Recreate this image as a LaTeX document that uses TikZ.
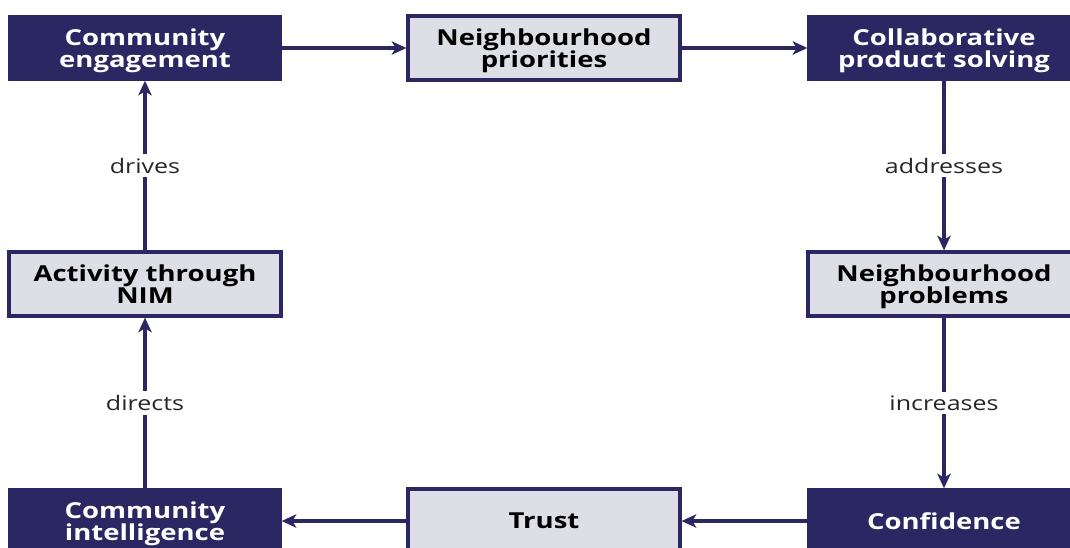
\documentclass[tikz,border=0pt]{standalone}
\usepackage{fontspec}
\setsansfont[FakeStretch=1.25]{Open Sans}
\renewcommand{\familydefault}{\sfdefault}
\usetikzlibrary{arrows.meta}
\definecolor{nimnavy}{HTML}{2A2762}
\definecolor{nimgrey}{HTML}{DEDEE6}

\begin{document}
\begin{tikzpicture}[x=0.75pt,y=-0.75pt]
\tikzstyle{every node}=[font=\sffamily]
\tikzstyle{darkbox}=[fill=nimnavy,draw=nimnavy,line width=1pt,text=white,
                     font=\sffamily\bfseries\fontsize{16.5}{17}\selectfont,
                     text depth=0pt,
                     minimum width=204pt,minimum height=48pt,align=center,inner sep=0pt]
\tikzstyle{lightbox}=[darkbox,fill=nimgrey,line width=2.4pt,text=black]
\tikzstyle{flow}=[draw=nimnavy,line width=2.4pt,
                  -{Stealth[length=11pt,width=10pt,inset=3pt]}]
\tikzstyle{edgelabel}=[fill=white,text=black!85,inner sep=3pt,
                       font=\sffamily\fontsize{15}{16}\selectfont]
\useasboundingbox (0,0) rectangle (1070,547);

% top row
\node[darkbox] (engage) at (145,48) {Community\\engagement};
\node[lightbox] (prior) at (544,48) {Neighbourhood\\priorities};
\node[darkbox] (collab) at (944,48) {Collaborative\\product solving};
% middle row
\node[lightbox] (nimact) at (145,284) {Activity through\\NIM};
\node[lightbox] (problems) at (944,284) {Neighbourhood\\problems};
% bottom row
\node[darkbox] (intel) at (145,521) {Community\\intelligence};
\node[lightbox] (trust) at (544,521) {Trust};
\node[darkbox] (confid) at (944,521) {Confidence};

\draw[flow] (engage) -- (prior);
\draw[flow] (prior) -- (collab);
\draw[flow] (collab) -- node[edgelabel] {addresses} (problems);
\draw[flow] (problems) -- node[edgelabel] {increases} (confid);
\draw[flow] (confid) -- (trust);
\draw[flow] (trust) -- (intel);
\draw[flow] (intel) -- node[edgelabel] {directs} (nimact);
\draw[flow] (nimact) -- node[edgelabel] {drives} (engage);
\end{tikzpicture}
\end{document}
